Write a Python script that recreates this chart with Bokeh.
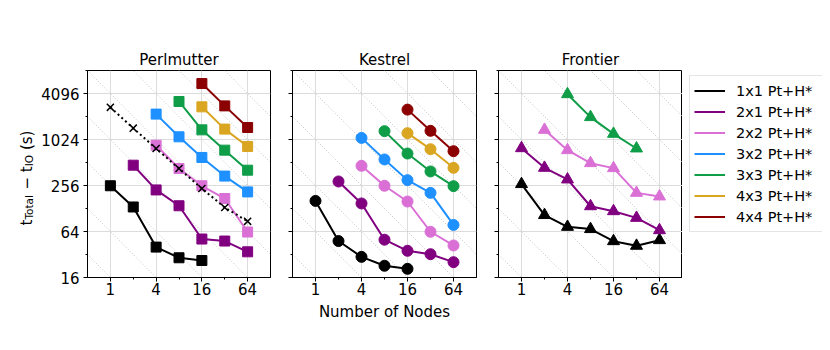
import math
from bokeh.plotting import figure
from bokeh.models import Range1d, FixedTicker, PrintfTickFormatter, CustomJSTickFormatter, Legend
from bokeh.core.properties import value
from bokeh.layouts import row
from bokeh.embed import file_html
from bokeh.resources import INLINE

nan = float("nan")

# ---------------- data ----------------
nodes = [1, 2, 4, 8, 16, 32, 64]
x_ticks = [1, 4, 16, 64]
x_minor = [2, 8, 32]
y_ticks = [16, 64, 256, 1024, 4096]
y_minor = [32, 128, 512, 2048, 8192]
configs = ["1x1", "2x1", "2x2", "3x2", "3x3", "4x3", "4x4"]
colors = ["black", "#800080", "#DA70D6", "#1E90FF", "#0F9D48", "#DAA520", "#8B0000"]

# Perlmutter (squares)
perl_1x1 = [254, 134, 40, 29, 26.7, nan, nan]
perl_2x1 = [nan, 472, 224, 139, 51, 48, 34.7]
perl_2x2 = [nan, nan, 862, 427, 254, 173, 63]
perl_3x2 = [nan, nan, 2200, 1110, 596, 340, 211]
perl_3x3 = [nan, nan, nan, 3220, 1370, 743, 406]
perl_4x3 = [nan, nan, nan, nan, 2740, 1400, 830]
perl_4x4 = [nan, nan, nan, nan, 5530, 2820, 1470]
perl_ideal = [2700, 1440, 780, 427, 234, 132, 87]

# Kestrel (circles)
kest_1x1 = [161, 48, 29.8, 22.8, 20.8, nan, nan]
kest_2x1 = [nan, 289, 149, 50, 35.8, 32.3, 25.4]
kest_2x2 = [nan, nan, 464, 254, 158, 63.5, 42]
kest_3x2 = [nan, nan, 1075, 561, 301, 205, 78]
kest_3x3 = [nan, nan, nan, 1317, 671, 391, 251]
kest_4x3 = [nan, nan, nan, nan, 1240, 765, 436]
kest_4x4 = [nan, nan, nan, nan, 2520, 1330, 720]

# Frontier (triangles)
fron_1x1 = [267, 105, 73.6, 68.8, 47.8, 41.6, 49.3]
fron_2x1 = [788, 436, 307, 137, 118, 96.5, 66.6]
fron_2x2 = [nan, 1370, 743, 502, 432, 205, 184]
fron_3x3 = [nan, nan, 4010, 2010, 1215, 781, nan]

# background ideal-scaling guides: x*y = 2**k
guide_log2 = [4, 6, 8, 10, 12, 14, 16, 18, 20]

# y-axis label pieces (text, is_subscript)
ylabel_parts = [("t", False), ("Total", True), ("\u2212 t", False), ("IO", True), ("(s)", False)]
ylabel_offsets = [52.0, 57.9, 88.0, 111.2, 127.4]

FONT = "DejaVu Sans"
H = 337
TOP = 70
BOTTOM = 60


def make_panel(title, series, marker, size, width, left, right, show_ylabels, xlabel=None):
    p = figure(width=width, height=H, x_axis_type="log", y_axis_type="log",
               x_range=Range1d(0.5, 128), y_range=Range1d(16, 8192),
               output_backend="svg", toolbar_location=None,
               min_border_left=left, min_border_right=right,
               min_border_top=TOP, min_border_bottom=BOTTOM)
    p.background_fill_color = "white"
    p.border_fill_color = "white"
    p.outline_line_color = "black"
    p.outline_line_width = 1

    x0, x1 = p.x_range.start, p.x_range.end
    gx = [[x0, x1] for _ in guide_log2]
    gy = [[2 ** k / x0, 2 ** k / x1] for k in guide_log2]
    p.multi_line(gx, gy, line_color="#c4c4c4", line_width=1, line_dash="1 2")

    p.xgrid.grid_line_color = "#dcdcdc"
    p.ygrid.grid_line_color = "#dcdcdc"
    p.xgrid.grid_line_width = 1
    p.ygrid.grid_line_width = 1

    p.xaxis.ticker = FixedTicker(ticks=x_ticks, minor_ticks=x_minor)
    p.yaxis.ticker = FixedTicker(ticks=y_ticks, minor_ticks=y_minor)
    p.xaxis.formatter = PrintfTickFormatter(format="%d")
    if show_ylabels:
        p.yaxis.formatter = PrintfTickFormatter(format="%d")
    else:
        p.yaxis.formatter = CustomJSTickFormatter(code="return ''")
    for ax in (p.xaxis[0], p.yaxis[0]):
        ax.axis_line_color = "black"
        ax.major_tick_line_color = "black"
        ax.minor_tick_line_color = "black"
        ax.major_tick_out = 4
        ax.major_tick_in = 0
        ax.minor_tick_out = 2
        ax.minor_tick_in = 0
        ax.major_label_text_font = FONT
        ax.major_label_text_font_size = "15px"
        ax.major_label_text_color = "black"
    p.yaxis.major_label_standoff = 4
    p.xaxis.major_label_standoff = 1
    if xlabel:
        p.xaxis.axis_label = xlabel
        p.xaxis.axis_label_text_font = FONT
        p.xaxis.axis_label_text_font_size = "15px"
        p.xaxis.axis_label_text_font_style = "normal"
        p.xaxis.axis_label_text_color = "black"
        p.xaxis.axis_label_standoff = 5

    p.title.text = title
    p.title.align = "center"
    p.title.text_font = FONT
    p.title.text_font_size = "15px"
    p.title.text_font_style = "normal"
    p.title.text_color = "black"
    p.title.standoff = 4

    for ys, col in series:
        p.line(nodes, ys, line_color=col, line_width=2)
        p.scatter(nodes, ys, marker=marker, size=size, fill_color=col, line_color=col)
    return p


# y-axis label figure (real text with subscripts)
YW = 38
py = figure(width=YW, height=H, x_range=Range1d(0, YW), y_range=Range1d(0, H - TOP - BOTTOM),
            output_backend="svg", toolbar_location=None,
            x_axis_location=None, y_axis_location=None,
            min_border_left=0, min_border_right=0, min_border_top=TOP, min_border_bottom=BOTTOM)
py.grid.visible = False
py.outline_line_color = None
norm_t = [t for (t, s) in ylabel_parts if not s]
norm_y = [o for (t, s), o in zip(ylabel_parts, ylabel_offsets) if not s]
sub_t = [t for (t, s) in ylabel_parts if s]
sub_y = [o for (t, s), o in zip(ylabel_parts, ylabel_offsets) if s]
py.text(x=[26] * len(norm_t), y=norm_y, text=norm_t, angle=math.pi / 2,
        text_font=value(FONT), text_font_size=value("15px"), text_color="black",
        text_align="left", text_baseline="alphabetic")
py.text(x=[28.5] * len(sub_t), y=sub_y, text=sub_t, angle=math.pi / 2,
        text_font=value(FONT), text_font_size=value("10.5px"), text_color="black",
        text_align="left", text_baseline="alphabetic")

perl_series = list(zip([perl_1x1, perl_2x1, perl_2x2, perl_3x2, perl_3x3, perl_4x3, perl_4x4], colors))
kest_series = list(zip([kest_1x1, kest_2x1, kest_2x2, kest_3x2, kest_3x3, kest_4x3, kest_4x4], colors))
fron_series = [(fron_1x1, colors[0]), (fron_2x1, colors[1]), (fron_2x2, colors[2]), (fron_3x3, colors[4])]

p1 = make_panel("Perlmutter", perl_series, "square", 10, 243, 48, 11, True)
p1.line(nodes, perl_ideal, line_color="black", line_width=2, line_dash="2 3")
p1.scatter(nodes, perl_ideal, marker="x", size=10, line_color="black", line_width=1.5)

p2 = make_panel("Kestrel", kest_series, "circle", 11, 206, 11, 11, False, "Number of Nodes")
p3 = make_panel("Frontier", fron_series, "triangle", 12, 195, 11, 0, False)

# legend panel
p4 = figure(width=140, height=H, x_range=Range1d(10, 11), y_range=Range1d(10, 11),
            output_backend="svg", toolbar_location=None,
            x_axis_location=None, y_axis_location=None,
            min_border_left=0, min_border_right=0, min_border_top=TOP, min_border_bottom=BOTTOM)
p4.grid.visible = False
p4.outline_line_color = None
items = []
for cfg, col in zip(configs, colors):
    r = p4.line(x=[0, 1], y=[0, 0], line_color=col, line_width=2)
    items.append((f"{cfg} Pt+H*", [r]))
legend = Legend(items=items, location=(7, 45), margin=0, padding=4, spacing=0,
                glyph_width=31, glyph_height=21, label_height=21, label_width=83,
                label_standoff=11, label_text_font=FONT, label_text_font_size="14.5px",
                label_text_color="black", border_line_color="#cccccc", border_line_width=1,
                background_fill_color="white", background_fill_alpha=1.0)
p4.add_layout(legend)

layout = row(py, p1, p2, p3, p4)
open("out.html", "w").write(file_html(layout, INLINE))
